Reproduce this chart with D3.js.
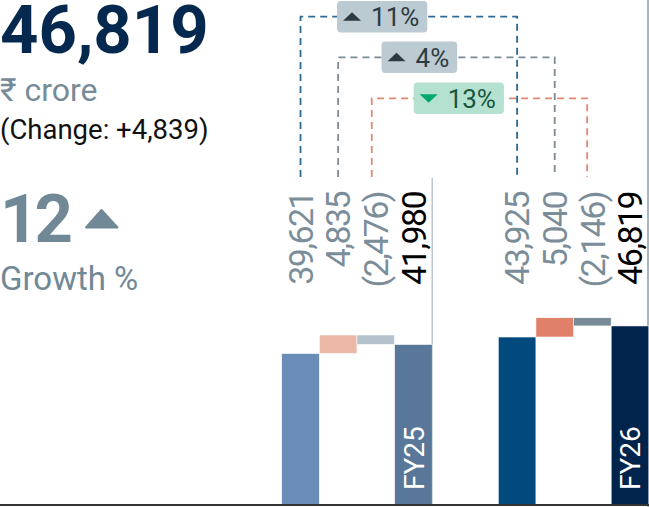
<!DOCTYPE html>
<html>
<head>
<meta charset="utf-8">
<script src="https://cdn.jsdelivr.net/npm/d3@7"></script>
<style>
  html, body { margin: 0; padding: 0; background: #fff; }
  svg { display: block; font-family: Roboto, "Noto Sans", sans-serif; }
</style>
</head>
<body>
<svg id="chart" width="649" height="507"></svg>
<script>
const groups = ['FY25', 'FY26'];
const steps = ['base', 'increase', 'decrease', 'total'];
const fy25Values = [39621, 4835, -2476, 41980];
const fy26Values = [43925, 5040, -2146, 46819];
const valueLabels = {
  FY25: ['39,621', '4,835', '(2,476)', '41,980'],
  FY26: ['43,925', '5,040', '(2,146)', '46,819']
};
const changeLabels = ['11%', '4%', '13%'];
const changeDirs = ['up', 'up', 'down'];

const barColors = {
  FY25: ['#6a8db7', '#ecb9a6', '#b3c2cb', '#587799'],
  FY26: ['#024a7e', '#e0806a', '#768b97', '#00244b']
};
const lineColors = ['#2f6a97', '#7a8b96', '#e08a72'];

const svg = d3.select('#chart');

// headline block
svg.append('text').attr('x', 0).attr('y', 53)
  .attr('font-size', 67).attr('font-weight', 700).attr('fill', '#05284f')
  .text('46,819');
svg.append('text').attr('x', 0).attr('y', 101)
  .attr('font-size', 32).attr('fill', '#768b98')
  .text('₹ crore');
svg.append('text').attr('x', 0).attr('y', 139)
  .attr('font-size', 27.5).attr('fill', '#111')
  .text('(Change: +4,839)');
svg.append('text').attr('x', 0).attr('y', 241.5)
  .attr('font-size', 67).attr('font-weight', 700).attr('fill', '#718896')
  .attr('letter-spacing', -4)
  .text('12');
svg.append('path')
  .attr('d', 'M86,227.5 L101.5,210 L117.5,227.5 Z')
  .attr('fill', '#718896').attr('stroke', '#718896')
  .attr('stroke-width', 2).attr('stroke-linejoin', 'round');
svg.append('text').attr('x', 0).attr('y', 290)
  .attr('font-size', 33).attr('fill', '#718896')
  .text('Growth %');

// scales
const x0 = d3.scaleBand().domain(groups).range([281.7, 648.8]).paddingInner(0.305).paddingOuter(0);
const x1 = d3.scaleBand().domain(steps).range([0, x0.bandwidth()]).padding(0);
const y = d3.scaleLinear().domain([0, 85500]).range([505, 178]);

function waterfall(vals) {
  let run = 0;
  return vals.map((v, i) => {
    let lo, hi;
    if (i === 0 || i === vals.length - 1) { lo = 0; hi = v; run = v; }
    else { const next = run + v; lo = Math.min(run, next); hi = Math.max(run, next); run = next; }
    return { step: steps[i], lo, hi };
  });
}

const barData = [];
groups.forEach((g) => {
  const vals = g === 'FY25' ? fy25Values : fy26Values;
  waterfall(vals).forEach((d, i) => {
    barData.push({ ...d, group: g, i, color: barColors[g][i], label: valueLabels[g][i] });
  });
});

const cx = (d) => x0(d.group) + x1(d.step) + x1.bandwidth() / 2;

// divider and border
svg.append('line')
  .attr('x1', x0('FY25') + x0.bandwidth()).attr('x2', x0('FY25') + x0.bandwidth())
  .attr('y1', 178).attr('y2', 505)
  .attr('stroke', '#b9c7d1').attr('stroke-width', 1.5);
svg.append('line')
  .attr('x1', 648).attr('x2', 648).attr('y1', 0).attr('y2', 507)
  .attr('stroke', '#8d9ca6').attr('stroke-width', 1.5);

// bars
svg.append('g').selectAll('rect')
  .data(barData)
  .join('rect')
  .attr('x', (d) => x0(d.group) + x1(d.step))
  .attr('y', (d) => y(d.hi))
  .attr('width', x1.bandwidth())
  .attr('height', (d) => y(d.lo) - y(d.hi))
  .attr('fill', (d) => d.color)
  .attr('stroke', '#fff').attr('stroke-width', 0.6);

// value labels (rotated)
svg.append('g').selectAll('text')
  .data(barData)
  .join('text')
  .attr('transform', (d) => `translate(${cx(d)},192) rotate(-90)`)
  .attr('text-anchor', 'end')
  .attr('dy', '0.36em')
  .attr('font-size', 34)
  .attr('letter-spacing', -1.6)
  .attr('fill', (d) => (d.step === 'total' ? '#000' : '#7a8d99'))
  .text((d) => d.label);

// group labels inside total bars
svg.append('g').selectAll('text')
  .data(barData.filter((d) => d.step === 'total'))
  .join('text')
  .attr('transform', (d) => `translate(${cx(d)},490) rotate(-90)`)
  .attr('text-anchor', 'start')
  .attr('dy', '0.36em')
  .attr('font-size', 28)
  .attr('fill', '#fff')
  .text((d) => d.group);

// change connectors
const connY = [16.7, 57.3, 98.3];
const connNudge = [0, 0, -4];
const badgeFrac = [0.377, 0.375, 0.404];
const conn = changeLabels.map((lab, i) => {
  const a = barData.find((d) => d.group === 'FY25' && d.i === i);
  const b = barData.find((d) => d.group === 'FY26' && d.i === i);
  return { lab, dir: changeDirs[i], xa: cx(a) + connNudge[i], xb: cx(b) + connNudge[i] * 1.3, yt: connY[i], color: lineColors[i], i };
});

svg.append('g').selectAll('path')
  .data(conn)
  .join('path')
  .attr('d', (d) => `M${d.xa},177 L${d.xa},${d.yt} L${d.xb},${d.yt} L${d.xb},177`)
  .attr('fill', 'none')
  .attr('stroke', (d) => d.color)
  .attr('stroke-width', 1.8)
  .attr('stroke-dasharray', '7,5');

const badges = svg.append('g').selectAll('g')
  .data(conn)
  .join('g')
  .attr('transform', (d) => `translate(${d.xa + (d.xb - d.xa) * badgeFrac[d.i]},${d.yt})`);

badges.each(function (d) {
  const g = d3.select(this);
  const up = d.dir === 'up';
  const rect = g.append('rect');
  const tri = g.append('path');
  const t = g.append('text')
    .attr('font-size', 26)
    .attr('dy', '0.36em')
    .attr('fill', up ? '#2c3a42' : '#17583e')
    .text(d.lab);
  const tw = t.node().getComputedTextLength();
  const w = 6 + 18 + 10 + tw + 8;
  const left = -w / 2;
  rect.attr('x', left).attr('y', -15.8).attr('width', w).attr('height', 31.6)
    .attr('rx', 4).attr('fill', up ? '#bccad2' : '#b5e1d0');
  const tx = left + 6;
  tri.attr('d', up
      ? `M${tx},4 L${tx + 9},-4.5 L${tx + 18},4 Z`
      : `M${tx},-4 L${tx + 9},4.5 L${tx + 18},-4 Z`)
    .attr('fill', up ? '#2c3a42' : '#00a86b');
  t.attr('x', tx + 28);
});

// baseline
svg.append('line')
  .attr('x1', 0).attr('x2', 649).attr('y1', 505).attr('y2', 505)
  .attr('stroke', '#333').attr('stroke-width', 2);
</script>
</body>
</html>
